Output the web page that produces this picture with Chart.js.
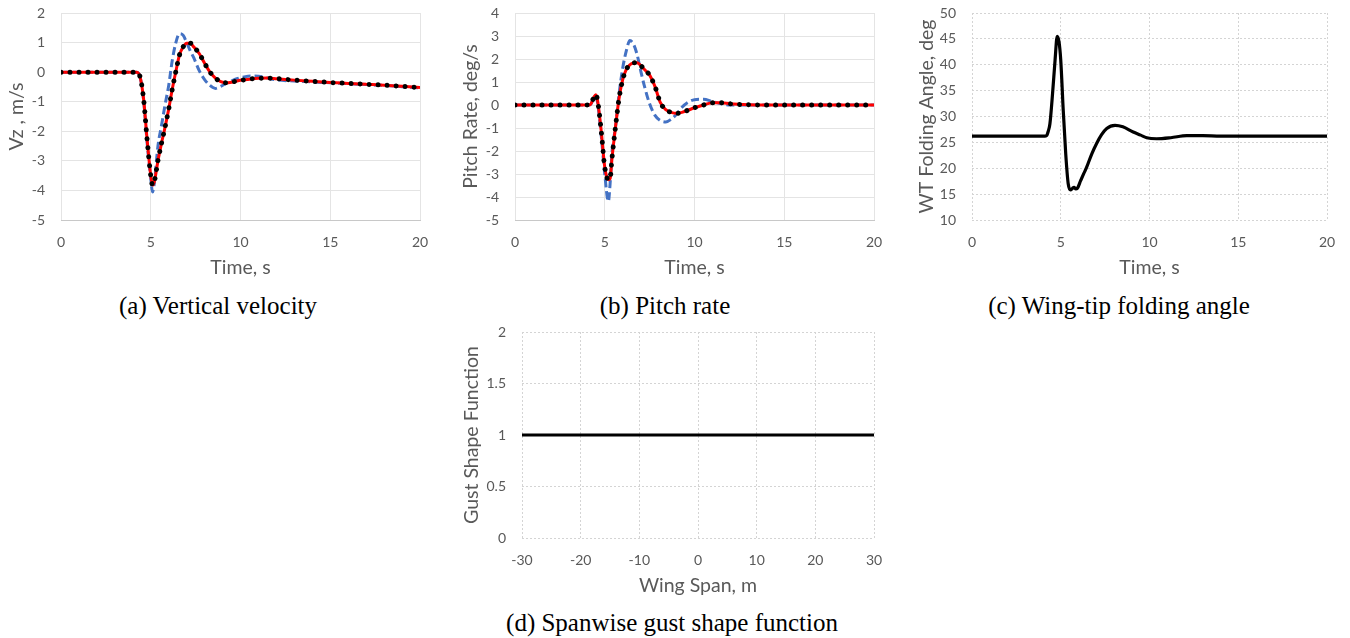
<!DOCTYPE html>
<html>
<head>
<meta charset="utf-8">
<script src="https://cdn.jsdelivr.net/npm/chart.js@4.4.1/dist/chart.umd.min.js"></script>
<style>
  body { margin: 0; background: #fff; width: 1350px; height: 638px; position: relative; overflow: hidden; }
  canvas { position: absolute; }
  .didascalia { position: absolute; font-family: "Liberation Serif", "Times New Roman", serif; font-size: 25px; color: #000; white-space: nowrap; line-height: 1; transform: translate(-50%, -50%); }
</style>
</head>
<body>
<canvas id="graficoA" width="440" height="290" style="left:0px;top:0px"></canvas>
<canvas id="graficoB" width="440" height="290" style="left:450px;top:0px"></canvas>
<canvas id="graficoC" width="445" height="290" style="left:900px;top:0px"></canvas>
<canvas id="graficoD" width="470" height="288" style="left:420px;top:320px"></canvas>

<div class="didascalia" style="left:218px;top:305px">(a) Vertical velocity</div>
<div class="didascalia" style="left:665px;top:305px">(b) Pitch rate</div>
<div class="didascalia" style="left:1119px;top:305px">(c) Wing-tip folding angle</div>
<div class="didascalia" style="left:672px;top:622px">(d) Spanwise gust shape function</div>

<script>
// Tempi (s) e velocità verticale Vz (m/s)
let tempiA = [0, 4.2, 4.4, 4.6, 4.8, 5.0, 5.1, 5.2, 5.4, 5.6, 5.8, 6.0, 6.2, 6.4, 6.6, 6.8, 7.0, 7.2, 7.4, 7.7, 8.0, 8.3, 8.6, 8.9, 9.2, 9.5, 9.8, 10.2, 10.6, 11.0, 11.5, 12, 13, 14, 15, 16, 17, 18, 19, 20];
let vzNero = [0, 0, -0.15, -0.9, -2.3, -3.5, -3.82, -3.7, -3.0, -2.4, -1.85, -1.25, -0.57, 0.03, 0.58, 0.85, 0.98, 0.98, 0.85, 0.63, 0.3, 0.0, -0.2, -0.32, -0.36, -0.34, -0.3, -0.26, -0.23, -0.21, -0.2, -0.22, -0.27, -0.31, -0.35, -0.38, -0.41, -0.44, -0.48, -0.52];
let vzRosso = [0, 0, -0.15, -0.9, -2.3, -3.5, -3.82, -3.7, -3.0, -2.4, -1.85, -1.25, -0.57, 0.03, 0.58, 0.85, 0.98, 0.98, 0.85, 0.63, 0.3, 0.0, -0.2, -0.32, -0.36, -0.34, -0.3, -0.26, -0.23, -0.21, -0.2, -0.22, -0.27, -0.31, -0.35, -0.38, -0.41, -0.44, -0.48, -0.52];
let vzBlu = [0, 0, -0.15, -0.95, -2.4, -3.6, -4.05, -3.75, -2.5, -1.8, -1.1, -0.45, 0.4, 1.0, 1.3, 1.25, 1.0, 0.72, 0.48, 0.05, -0.25, -0.45, -0.55, -0.48, -0.38, -0.3, -0.22, -0.16, -0.13, -0.14, -0.2, -0.26, -0.3, -0.33, -0.36, -0.39, -0.42, -0.45, -0.49, -0.53];

// Tempi (s) e velocità di beccheggio (deg/s)
let tempiB = [0, 4.0, 4.2, 4.4, 4.5, 4.6, 4.8, 5.0, 5.2, 5.3, 5.4, 5.6, 5.8, 6.0, 6.2, 6.4, 6.6, 6.8, 7.0, 7.2, 7.5, 7.8, 8.1, 8.4, 8.7, 9.0, 9.3, 9.6, 10.0, 10.5, 11.0, 11.5, 12.0, 13, 14, 15, 16, 17, 18, 19, 20];
let qNero = [0, 0, 0.02, 0.35, 0.45, 0.2, -1.1, -2.7, -3.25, -3.2, -2.35, -0.95, 0.3, 1.1, 1.55, 1.75, 1.83, 1.84, 1.72, 1.55, 1.3, 0.8, 0.1, -0.2, -0.32, -0.36, -0.32, -0.24, -0.12, 0.0, 0.1, 0.1, 0.05, 0.01, 0, 0, 0, 0, 0, 0, 0];
let qRosso = [0, 0, 0.02, 0.35, 0.45, 0.2, -1.1, -2.7, -3.25, -3.2, -2.35, -0.95, 0.3, 1.1, 1.55, 1.75, 1.83, 1.84, 1.72, 1.55, 1.3, 0.8, 0.1, -0.2, -0.32, -0.36, -0.32, -0.24, -0.12, 0.0, 0.1, 0.1, 0.05, 0.01, 0, 0, 0, 0, 0, 0, 0];
let qBlu = [0, 0, 0.02, 0.3, 0.35, 0.1, -1.3, -3.0, -4.19, -3.4, -2.1, -0.95, 0.5, 1.6, 2.35, 2.8, 2.65, 2.2, 1.5, 0.85, 0.05, -0.45, -0.68, -0.74, -0.62, -0.4, -0.1, 0.1, 0.23, 0.25, 0.15, 0.05, 0.0, 0, 0, 0, 0, 0, 0, 0, 0];

// Tempi (s) e angolo di ripiegamento dell'estremità alare (deg)
let tempiC = [0, 4.1, 4.2, 4.3, 4.39, 4.54, 4.68, 4.8, 4.9, 5.0, 5.14, 5.28, 5.42, 5.55, 5.65, 5.75, 5.85, 5.93, 6.12, 6.3, 6.46, 6.75, 7.02, 7.3, 7.59, 8.06, 8.5, 9.08, 9.5, 9.84, 10.4, 11.2, 12.1, 13, 14, 20];
let angoloC = [26.2, 26.2, 26.3, 27.2, 28.6, 34.5, 40.9, 45.5, 44.5, 40.9, 31.2, 22.8, 17.0, 15.8, 16.1, 16.3, 16.0, 16.1, 17.6, 19.0, 20.2, 22.8, 24.8, 26.5, 27.7, 28.3, 28.0, 27.0, 26.4, 25.9, 25.7, 25.9, 26.3, 26.3, 26.2, 26.2];

// Apertura alare (m) e funzione di forma della raffica
let aperturaD = [-30, -20, -10, 0, 10, 20, 30];
let formaD = [1, 1, 1, 1, 1, 1, 1];

let grigioTesto = "#595959";
let fontAssi = "Lato, 'Open Sans', sans-serif";

// Trasforma due array in punti {x, y}
function punti(xs, ys) {
  return xs.map((x, i) => ({ x: x, y: ys[i] }));
}

// Serie a puntini neri, linea rossa continua, linea blu tratteggiata
function serieNera(xs, ys) {
  return { data: punti(xs, ys), borderColor: "#000", borderWidth: 5, borderDash: [0.01, 9], borderCapStyle: "round" };
}
function serieRossa(xs, ys) {
  return { data: punti(xs, ys), borderColor: "#ff0000", borderWidth: 3 };
}
function serieBlu(xs, ys) {
  return { data: punti(xs, ys), borderColor: "#4472c4", borderWidth: 3, borderDash: [8, 4] };
}
function linea(xs, ys) {
  return { data: punti(xs, ys), borderColor: "#000", borderWidth: 3.2 };
}

// Crea un grafico con area di disegno fissata in pixel
function creaGrafico(id, p) {
  let griglia = { color: p.tratteggio ? "#d4d4d4" : "#e4e4e4", drawTicks: false };
  let bordoX = p.tratteggio
    ? { display: false, dash: [2, 2] }
    : { display: true, color: "#c8c8c8", width: 1 };
  let bordoY = p.tratteggio ? { display: false, dash: [2, 2] } : { display: false };

  new Chart(document.getElementById(id), {
    type: "line",
    data: { datasets: p.serie },
    options: {
      responsive: false,
      animation: false,
      devicePixelRatio: 1,
      layout: { padding: { left: 0, top: p.alto, right: p.destra, bottom: 0 } },
      elements: { point: { radius: 0 }, line: { cubicInterpolationMode: "monotone" } },
      plugins: { legend: { display: false }, tooltip: { enabled: false } },
      scales: {
        x: {
          type: "linear",
          min: p.xMin, max: p.xMax,
          ticks: { stepSize: p.xPasso, color: grigioTesto, padding: 14, font: { family: fontAssi, size: 14 } },
          grid: griglia,
          border: bordoX,
          title: { display: true, text: p.titoloX, color: grigioTesto, padding: { top: 0, bottom: 11 }, font: { family: fontAssi, size: 19.5 } },
          afterFit: function (scala) {
            scala.height = 70;
            scala.paddingLeft = 0;
            scala.paddingRight = 0;
          }
        },
        y: {
          min: p.yMin, max: p.yMax,
          ticks: {
            stepSize: p.yPasso, color: grigioTesto, padding: 16, font: { family: fontAssi, size: 14 },
            callback: function (valore) { return String(valore); }
          },
          grid: griglia,
          border: bordoY,
          title: { display: true, text: p.titoloY, color: grigioTesto, padding: { top: p.margineTitoloY, bottom: 0 }, font: { family: fontAssi, size: 19.5 } },
          afterFit: function (scala) {
            scala.width = p.larghezzaY;
            scala.paddingTop = 0;
            scala.paddingBottom = 0;
          }
        }
      }
    }
  });
}

creaGrafico("graficoA", {
  serie: [serieNera(tempiA, vzNero), serieRossa(tempiA, vzRosso), serieBlu(tempiA, vzBlu)],
  xMin: 0, xMax: 20, xPasso: 5, yMin: -5, yMax: 2, yPasso: 1,
  titoloX: "Time, s", titoloY: "Vz , m/s",
  alto: 13, destra: 20, larghezzaY: 61, margineTitoloY: 5, tratteggio: false
});

creaGrafico("graficoB", {
  serie: [serieNera(tempiB, qNero), serieRossa(tempiB, qRosso), serieBlu(tempiB, qBlu)],
  xMin: 0, xMax: 20, xPasso: 5, yMin: -5, yMax: 4, yPasso: 1,
  titoloX: "Time, s", titoloY: "Pitch Rate, deg/s",
  alto: 13, destra: 16, larghezzaY: 65, margineTitoloY: 9, tratteggio: false
});

creaGrafico("graficoC", {
  serie: [linea(tempiC, angoloC)],
  xMin: 0, xMax: 20, xPasso: 5, yMin: 10, yMax: 50, yPasso: 5,
  titoloX: "Time, s", titoloY: "WT Folding Angle, deg",
  alto: 13, destra: 18, larghezzaY: 72, margineTitoloY: 15, tratteggio: true
});

creaGrafico("graficoD", {
  serie: [linea(aperturaD, formaD)],
  xMin: -30, xMax: 30, xPasso: 10, yMin: 0, yMax: 2, yPasso: 0.5,
  titoloX: "Wing Span, m", titoloY: "Gust Shape Function",
  alto: 12, destra: 16, larghezzaY: 102, margineTitoloY: 40, tratteggio: true
});
</script>
</body>
</html>
